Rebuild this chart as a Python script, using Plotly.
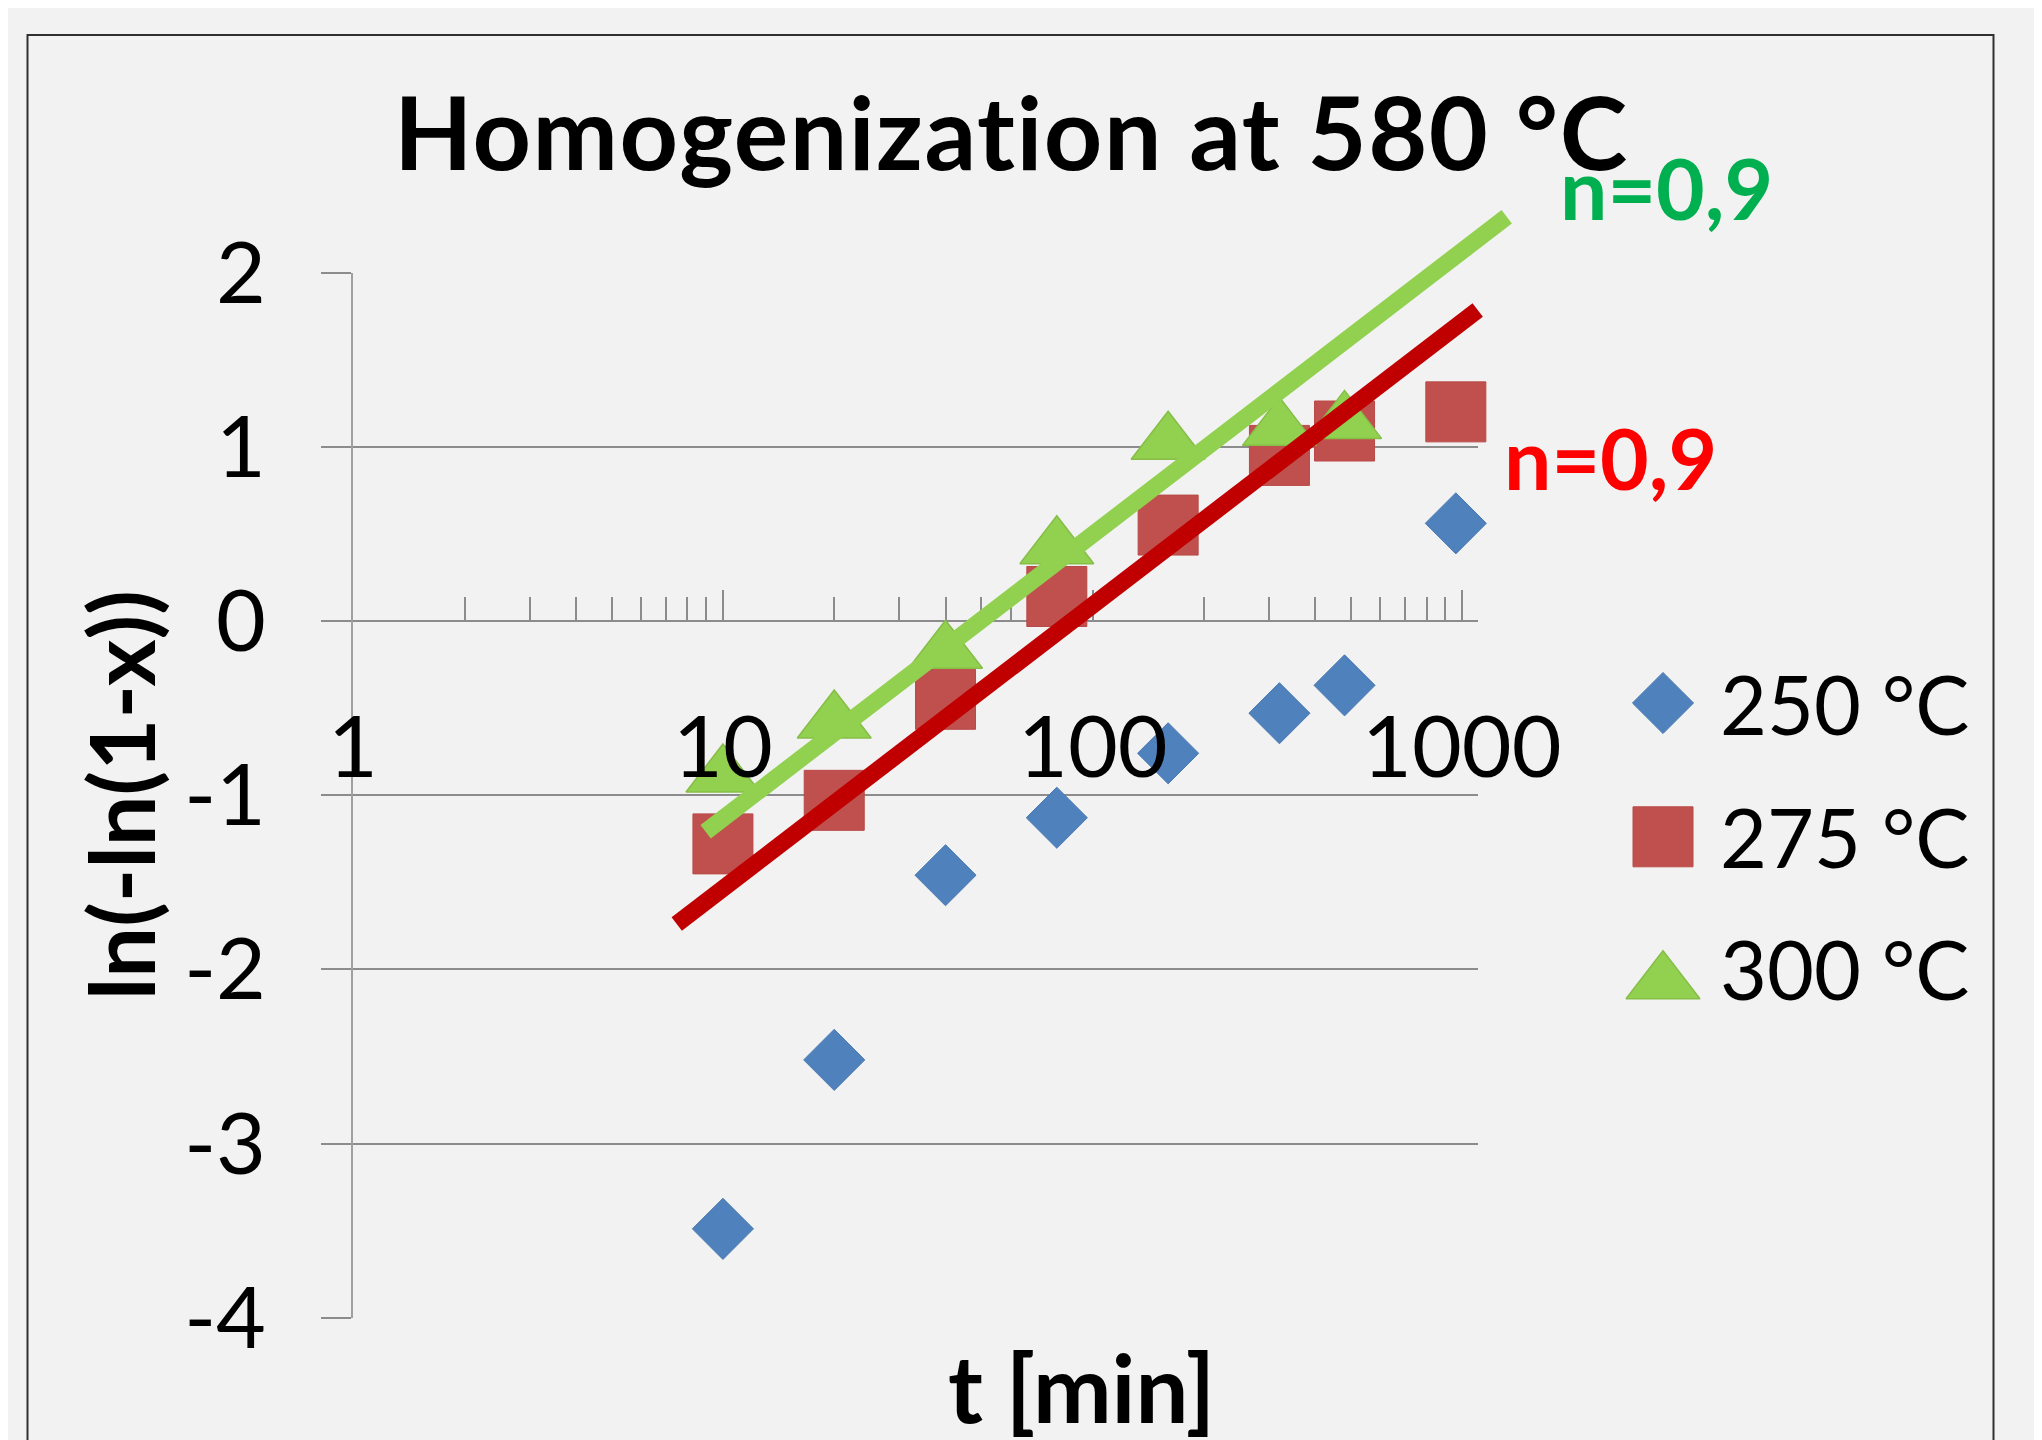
import math
import plotly.graph_objects as go

W, H = 2042, 1440
OFF = 8  # page body margin of the browser

# ---------------- data ----------------
t_min = [10, 20, 40, 80, 160, 320, 480, 960]
y_250 = [-3.49, -2.52, -1.46, -1.13, -0.76, -0.53, -0.37, 0.56]
y_275 = [-1.28, -1.03, -0.45, 0.14, 0.55, 0.95, 1.09, 1.20]
t_300 = [10, 20, 40, 80, 160, 320, 480]
y_300 = [-0.81, -0.50, -0.10, 0.50, 1.10, 1.18, 1.22]

fit_300_t = [8.98, 1318]
fit_300_y = [-1.21, 2.32]
fit_275_t = [7.5, 1100]
fit_275_y = [-1.74, 1.785]

series_names = ["250 °C", "275 °C", "300 °C"]
fit_labels = ["n=0,9", "n=0,9"]

x_tick_vals = [1, 10, 100, 1000]
x_tick_text = ["1", "10", "100", "1000"]
y_tick_vals = [-4, -3, -2, -1, 0, 1, 2]
y_tick_text = ["-4", "-3", "-2", "-1", "0", "1", "2"]
x_min, x_max = 1, 1100
y_min, y_max = -4, 2

title_text = "Homogenization at 580 °C"
x_title = "t [min]"
y_title = "ln(-ln(1-x))"

# ---------------- styles ----------------
FONT = "Lato"
BLUE = "#4F81BD"
RED = "#C0504D"
GREEN = "#92D050"
RED_LINE = "#C00000"
GREEN_TXT = "#00B050"
RED_TXT = "#FF0000"
GRID = "#8C8C8C"
PAPER = "#F2F2F2"


def px(x):
    return (x - OFF) / W


def py(y):
    return 1 - (y - OFF) / H


# plot area in screen pixels
PL, PR, PT, PB = 353.2, 1477.7, 272.5, 1317.7
xd = [px(PL), px(PR)]
yd = [py(PB), py(PT)]

lx0, lx1 = math.log10(x_min), math.log10(x_max)
x_axis_pos = yd[0] + (0 - y_min) / (y_max - y_min) * (yd[1] - yd[0])

# overlay subplot (same scale, larger extent) so the fit lines are not clipped
x2d = [xd[0], px(1600)]
y2d = [yd[0], py(150)]
x2_range = [lx0, lx0 + (lx1 - lx0) * (x2d[1] - x2d[0]) / (xd[1] - xd[0])]
y2_range = [y_min, y_min + (y_max - y_min) * (y2d[1] - y2d[0]) / (yd[1] - yd[0])]

# legend subplot
x3d = [px(1600), px(2000)]
y3d = [py(1040), py(640)]
leg_mx = 0.1575
leg_tx = 0.295
leg_rows = [0.8425, 0.508, 0.178]

marker_styles = [
    dict(symbol="diamond", size=47, color=BLUE, line=dict(width=1, color="#4A7AB3")),
    dict(symbol="square", size=60, color=RED, line=dict(width=1, color="#B84A47")),
    dict(symbol="triangle-up", size=64, color=GREEN, standoff=14,
         line=dict(width=1.5, color="#86BE48")),
]

fig = go.Figure()

series = [(t_min, y_250), (t_min, y_275), (t_300, y_300)]
for (tx, ty), name, ms in zip(series, series_names, marker_styles):
    fig.add_trace(go.Scatter(x=tx, y=ty, mode="markers", name=name, marker=ms,
                             xaxis="x", yaxis="y", showlegend=False, cliponaxis=False))

fig.add_trace(go.Scatter(x=fit_275_t, y=fit_275_y, mode="lines",
                         line=dict(color=RED_LINE, width=17), xaxis="x2", yaxis="y2",
                         showlegend=False))
fig.add_trace(go.Scatter(x=fit_300_t, y=fit_300_y, mode="lines",
                         line=dict(color=GREEN, width=17), xaxis="x2", yaxis="y2",
                         showlegend=False))

# legend markers
for ry, ms in zip(leg_rows, marker_styles):
    fig.add_trace(go.Scatter(x=[leg_mx], y=[ry], mode="markers", marker=ms,
                             xaxis="x3", yaxis="y3", showlegend=False, cliponaxis=False))

annotations = []
for ry, name in zip(leg_rows, series_names):
    annotations.append(dict(x=leg_tx, y=ry, xref="x3", yref="y3", text=name,
                            showarrow=False, xanchor="left", yanchor="middle",
                            font=dict(family=FONT, size=81, color="black")))

# x tick labels placed through the x scale, offset below the axis line
for v, t in zip(x_tick_vals, x_tick_text):
    annotations.append(dict(x=math.log10(v), y=0, xref="x", yref="y", text=t,
                            showarrow=False, xanchor="center", yanchor="middle",
                            yshift=-123, font=dict(family=FONT, size=86, color="black")))

annotations += [
    dict(x=px(1011), y=py(130), xref="paper", yref="paper",
         text="<b><span style='letter-spacing:1.5px'>" + title_text + "</span></b>",
         showarrow=False, xanchor="center",
         yanchor="middle", font=dict(family=FONT, size=102, color="black")),
    dict(x=px(1081), y=py(1386), xref="paper", yref="paper",
         text="<b>" + x_title + "</b>", showarrow=False, xanchor="center",
         yanchor="middle", font=dict(family=FONT, size=94, color="black")),
    dict(x=px(120), y=py(795), xref="paper", yref="paper",
         text="<b>" + y_title + "</b>", showarrow=False, textangle=-90,
         xanchor="center", yanchor="middle", font=dict(family=FONT, size=90, color="black")),
    dict(x=px(1666), y=py(187), xref="paper", yref="paper",
         text="<b>" + fit_labels[0] + "</b>", showarrow=False, xanchor="center",
         yanchor="middle", font=dict(family=FONT, size=84, color=GREEN_TXT)),
    dict(x=px(1610), y=py(457), xref="paper", yref="paper",
         text="<b>" + fit_labels[1] + "</b>", showarrow=False, xanchor="center",
         yanchor="middle", font=dict(family=FONT, size=84, color=RED_TXT)),
]

minor_vals = [m * 10 ** k for k in range(3) for m in range(2, 10)] + [x_max]

fig.update_layout(
    width=W, height=H, autosize=False,
    margin=dict(l=0, r=0, t=0, b=0, pad=0, autoexpand=False),
    paper_bgcolor=PAPER, plot_bgcolor="rgba(0,0,0,0)",
    showlegend=False,
    font=dict(family=FONT, color="black", size=86),
    xaxis=dict(type="log", domain=xd, range=[lx0, lx1], anchor="free", position=x_axis_pos,
               automargin=False,
               showgrid=False, zeroline=False, showline=True, linecolor=GRID, linewidth=2,
               ticks="inside", ticklen=30, tickwidth=2, tickcolor=GRID,
               tickmode="array", tickvals=x_tick_vals, ticktext=[""] * len(x_tick_vals),
               layer="below traces",
               minor=dict(ticks="inside", ticklen=23, tickwidth=2, tickcolor=GRID,
                          tickmode="array", tickvals=minor_vals, showgrid=False)),
    yaxis=dict(domain=yd, range=[y_min, y_max], anchor="x", automargin=False,
               showgrid=True, gridcolor=GRID, gridwidth=2, zeroline=False,
               showline=True, linecolor="#A0A0A0", linewidth=2,
               ticks="outside", ticklen=30, tickwidth=2, tickcolor=GRID,
               tickmode="array", tickvals=y_tick_vals, ticktext=y_tick_text,
               ticklabelstandoff=38, tickfont=dict(family=FONT, size=86, color="black")),
    xaxis2=dict(type="log", domain=x2d, range=x2_range, anchor="y2", visible=False,
                automargin=False),
    yaxis2=dict(domain=y2d, range=y2_range, anchor="x2", visible=False, automargin=False),
    xaxis3=dict(domain=x3d, range=[0, 1], anchor="y3", visible=False, automargin=False),
    yaxis3=dict(domain=y3d, range=[0, 1], anchor="x3", visible=False, automargin=False),
    annotations=annotations,
    shapes=[dict(type="rect", xref="paper", yref="paper",
                 x0=px(27.5), x1=px(1993.5), y0=-0.05, y1=py(35),
                 line=dict(color="#303030", width=2), fillcolor="rgba(0,0,0,0)",
                 layer="below")],
)

fig.write_html("out.html")
